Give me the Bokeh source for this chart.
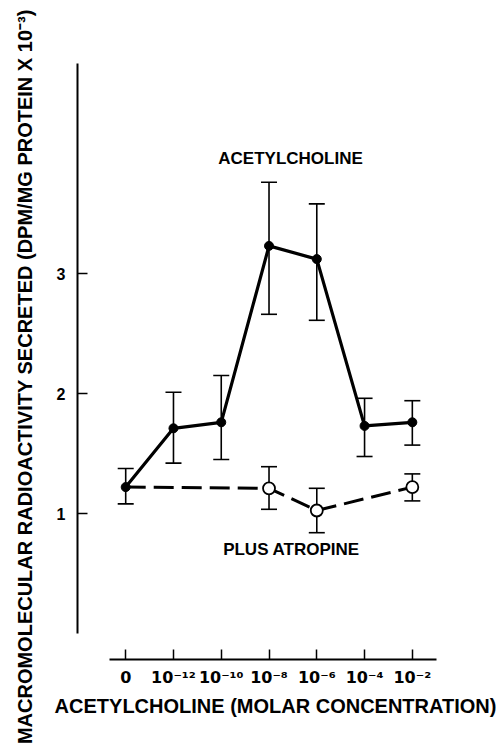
import math
from bokeh.plotting import figure
from bokeh.models import (Range1d, LinearAxis, FixedTicker, ColumnDataSource,
                          Whisker, TeeHead)
from bokeh.core.properties import value
from bokeh.embed import file_html
from bokeh.resources import INLINE

# ---- data ----
categories = ["0", "10⁻¹²", "10⁻¹⁰", "10⁻⁸", "10⁻⁶", "10⁻⁴", "10⁻²"]
ach_idx = [0, 1, 2, 3, 4, 5, 6]
ach_mean = [1.22, 1.71, 1.76, 3.23, 3.12, 1.73, 1.76]
ach_upper = [1.375, 2.01, 2.15, 3.76, 3.58, 1.96, 1.94]
ach_lower = [1.08, 1.42, 1.45, 2.66, 2.61, 1.475, 1.57]

atr_line_idx = [0, 3, 4, 6]
atr_line_mean = [1.22, 1.21, 1.025, 1.22]
atr_idx = [3, 4, 6]
atr_mean = [1.21, 1.025, 1.22]
atr_upper = [1.39, 1.21, 1.33]
atr_lower = [1.035, 0.84, 1.105]

y_ticks = [1, 2, 3]

FONT = "Liberation Sans"
TICKFONT = "DejaVu Sans"

p = figure(width=496, height=744, min_border=0, toolbar_location=None,
           output_backend="svg", x_axis_type=None, y_axis_type=None,
           x_range=Range1d(-2.621, 7.762), y_range=Range1d(-0.925, 5.275),
           outline_line_color=None, background_fill_color="white",
           border_fill_color="white")

# y axis (detached, bounded)
yax = LinearAxis(fixed_location=-1.009, bounds=(0, 4.75),
                 ticker=FixedTicker(ticks=y_ticks))
yax.major_tick_in = 10
yax.major_tick_out = 0
yax.minor_tick_in = 0
yax.minor_tick_out = 0
yax.axis_line_width = 2
yax.major_tick_line_width = 1.5
yax.major_label_standoff = 12
yax.major_label_text_font = FONT
yax.major_label_text_font_style = "bold"
yax.major_label_text_font_size = "16px"
yax.major_label_text_color = "black"
p.add_layout(yax, "left")

# x axis (detached, bounded)
xax = LinearAxis(fixed_location=-0.2167, bounds=(-0.333, 6.506),
                 ticker=FixedTicker(ticks=ach_idx),
                 major_label_overrides={i: c for i, c in zip(ach_idx, categories)})
xax.major_tick_in = 10
xax.major_tick_out = 0
xax.minor_tick_in = 0
xax.minor_tick_out = 0
xax.axis_line_width = 2
xax.major_tick_line_width = 1.5
xax.major_label_standoff = 8
xax.major_label_text_font = TICKFONT
xax.major_label_text_font_style = "bold"
xax.major_label_text_font_size = "16px"
xax.major_label_text_color = "black"
p.add_layout(xax, "below")

# atropine dashed line
p.line(atr_line_idx, atr_line_mean, line_color="black", line_width=3,
       line_dash="20 8")
# acetylcholine solid line
p.line(ach_idx, ach_mean, line_color="black", line_width=3.2)

# error bars
ach_src = ColumnDataSource(dict(x=ach_idx, y=ach_mean, up=ach_upper, lo=ach_lower))
atr_src = ColumnDataSource(dict(x=atr_idx, y=atr_mean, up=atr_upper, lo=atr_lower))
for src in (ach_src, atr_src):
    w = Whisker(base="x", upper="up", lower="lo", source=src, dimension="height",
                line_color="black", line_width=1.6, level="underlay",
                upper_head=TeeHead(size=16, line_width=1.6, line_color="black"),
                lower_head=TeeHead(size=16, line_width=1.6, line_color="black"))
    p.add_layout(w)

# markers
p.scatter("x", "y", source=ach_src, size=9, fill_color="black", line_color="black")
p.scatter("x", "y", source=atr_src, size=12, fill_color="white", line_color="black",
          line_width=1.8)

# annotations
p.text(x=[3.45], y=[3.96], text=["ACETYLCHOLINE"], text_align="center",
       text_baseline="middle", text_font=value(FONT), text_font_style="bold",
       text_font_size="17px", text_color="black")
p.text(x=[3.47], y=[0.696], text=["PLUS ATROPINE"], text_align="center",
       text_baseline="middle", text_font=value(FONT), text_font_style="bold",
       text_font_size="17px", text_color="black")
p.text(x=[3.136], y=[-0.6], text=["ACETYLCHOLINE (MOLAR CONCENTRATION)"],
       text_align="center", text_baseline="middle", text_font=value(FONT),
       text_font_style="bold", text_font_size="20px", text_color="black")
p.text(x=[-2.118], y=[2.14],
       text=["MACROMOLECULAR RADIOACTIVITY SECRETED (DPM/MG PROTEIN X 10⁻³)"],
       angle=math.pi / 2, text_align="center", text_baseline="middle",
       text_font=value(FONT), text_font_style="bold", text_font_size="20px",
       text_color="black")

open("out.html", "w").write(file_html(p, INLINE))
